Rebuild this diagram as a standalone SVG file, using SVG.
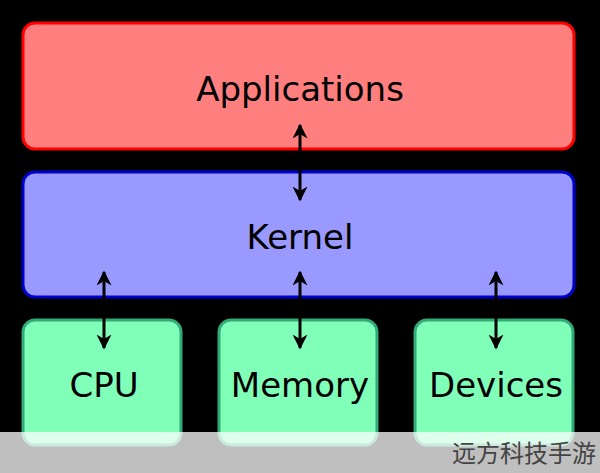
<svg xmlns="http://www.w3.org/2000/svg" width="600" height="473" viewBox="0 0 600 473">
<style>
.t{font-family:"DejaVu Sans","Noto Sans",sans-serif;font-size:34px;fill:#000;text-anchor:middle}
.g{fill:#80ffb8;stroke:#33aa77;stroke-width:3}
.a{stroke:#000;stroke-width:3;fill:none;marker-start:url(#h);marker-end:url(#h)}
</style>
<defs><marker id="h" viewBox="0 0 10 10" refX="9" refY="5" markerWidth="5" markerHeight="5" orient="auto-start-reverse"><path d="M0,0 L10,5 L0,10 L3,5 z" fill="#000"/></marker></defs>
<rect width="600" height="473" fill="#000"/>
<g id="applications"><rect x="23" y="23" width="551" height="126" rx="12" fill="#ff7f7f" stroke="#ff0000" stroke-width="3"/><text class="t" x="300" y="101">Applications</text></g>
<g id="kernel"><rect x="23" y="172" width="551" height="125" rx="12" fill="#9999ff" stroke="#0000cc" stroke-width="3"/><text class="t" x="300" y="249">Kernel</text></g>
<g id="cpu"><rect class="g" x="23" y="320" width="158" height="125" rx="12"/><text class="t" x="104" y="397">CPU</text></g>
<g id="memory"><rect class="g" x="219" y="320" width="158" height="125" rx="12"/><text class="t" x="300" y="397">Memory</text></g>
<g id="devices"><rect class="g" x="415" y="320" width="158" height="125" rx="12"/><text class="t" x="496" y="397">Devices</text></g>
<g id="connectors">
<line class="a" x1="300" y1="125" x2="300" y2="200"/>
<line class="a" x1="104" y1="272" x2="104" y2="348"/>
<line class="a" x1="300" y1="272" x2="300" y2="348"/>
<line class="a" x1="496" y1="272" x2="496" y2="348"/>
</g>
<rect x="0" y="432" width="600" height="41" fill="#fff" opacity="0.75"/>
<text x="596" y="462" font-family="Noto Sans CJK SC,sans-serif" font-size="24" fill="#444" text-anchor="end">远方科技手游</text>
</svg>
